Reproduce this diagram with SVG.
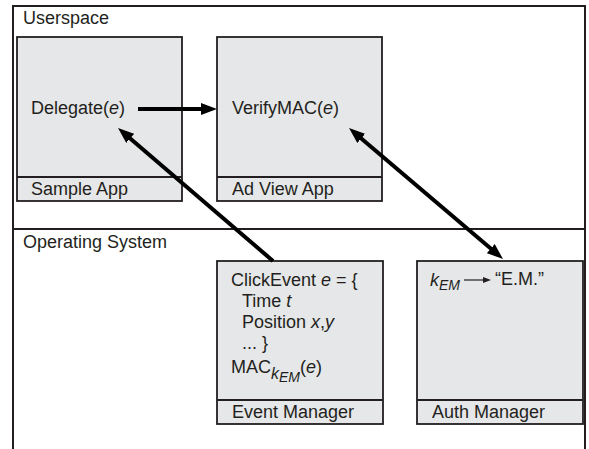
<svg xmlns="http://www.w3.org/2000/svg" width="589" height="449" viewBox="0 0 589 449">
<style>
text{font-family:"Liberation Sans",Arial,Helvetica,sans-serif;font-size:18px;fill:#231f20}
.i{font-style:italic}
.frame{fill:none;stroke:#231f20;stroke-width:2}
.box{fill:#e6e7e8;stroke:#231f20;stroke-width:1.8}
.conn{fill:none;stroke:#000;stroke-width:4}
.thin{fill:none;stroke:#231f20;stroke-width:1.2}
</style>
<defs>
<marker id="ah" viewBox="0 0 16 12" refX="8" refY="6" markerWidth="16" markerHeight="12" markerUnits="userSpaceOnUse" orient="auto-start-reverse">
<path d="M0,0 L16,6 L0,12 z" fill="#000"/>
</marker>
<marker id="ahs" viewBox="0 0 8 6" refX="2" refY="3" markerWidth="8" markerHeight="6" markerUnits="userSpaceOnUse" orient="auto">
<path d="M0,0 L8,3 L0,6 z" fill="#231f20"/>
</marker>
</defs>
<g id="frame">
<path class="frame" d="M13,449 V6 H585 V449 M13,229 H585"/>
<text x="23" y="24">Userspace</text>
<text x="23" y="248">Operating System</text>
</g>
<g id="sample-app">
<rect class="box" x="17" y="37" width="165" height="164"/>
<line class="box" x1="17" y1="177" x2="182" y2="177"/>
<text x="31" y="114">Delegate(<tspan class="i">e</tspan>)</text>
<text x="31" y="195">Sample App</text>
</g>
<g id="ad-view-app">
<rect class="box" x="217" y="37" width="165" height="164"/>
<line class="box" x1="217" y1="177" x2="382" y2="177"/>
<text x="232" y="114">VerifyMAC(<tspan class="i">e</tspan>)</text>
<text x="232" y="195">Ad View App</text>
</g>
<g id="event-manager">
<rect class="box" x="217" y="261" width="166" height="163"/>
<line class="box" x1="217" y1="400" x2="383" y2="400"/>
<text x="231" y="286">ClickEvent <tspan class="i">e</tspan> = {</text>
<text x="242" y="307">Time <tspan class="i">t</tspan></text>
<text x="242" y="328">Position <tspan class="i">x</tspan>,<tspan class="i">y</tspan></text>
<text x="242" y="349">... }</text>
<text x="231" y="373">MAC<tspan class="i" font-size="16" dy="6">k</tspan><tspan class="i" font-size="14" dy="3">EM</tspan><tspan dy="-9">(<tspan class="i">e</tspan>)</tspan></text>
<text x="232" y="418">Event Manager</text>
</g>
<g id="auth-manager">
<rect class="box" x="417" y="261" width="166" height="163"/>
<line class="box" x1="417" y1="400" x2="583" y2="400"/>
<text x="430" y="286"><tspan class="i">k</tspan><tspan class="i" font-size="14" dy="4">EM</tspan></text>
<line class="thin" x1="464" y1="280" x2="485" y2="280" marker-end="url(#ahs)"/>
<text x="495" y="285">“E.M.”</text>
<text x="432" y="418">Auth Manager</text>
</g>
<g id="connectors">
<line class="conn" x1="138" y1="109" x2="209" y2="109" marker-end="url(#ah)"/>
<line class="conn" x1="273" y1="261" x2="124.1" y2="133.2" marker-end="url(#ah)"/>
<line class="conn" x1="355.1" y1="133.2" x2="496.9" y2="253.8" marker-start="url(#ah)" marker-end="url(#ah)"/>
</g>
</svg>
